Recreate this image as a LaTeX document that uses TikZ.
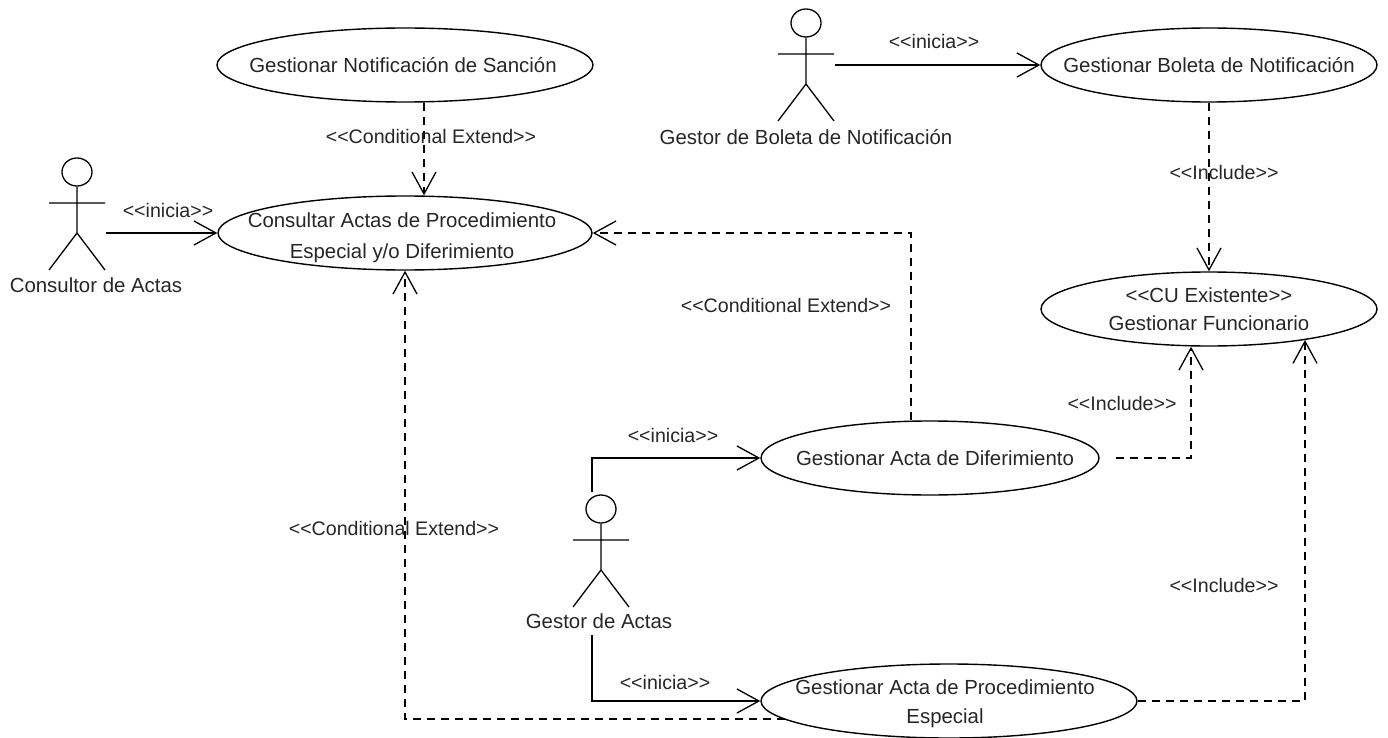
\documentclass[tikz,border=0pt]{standalone}
\usepackage{fontspec}
\setmainfont{Liberation Sans}
\usetikzlibrary{arrows.meta,shapes.geometric,calc}
\tikzset{
  x=1pt,y=-1pt,
  every node/.style={font=\fontsize{20.4}{23}\selectfont,text=black!85,align=center,inner sep=0pt},
  tag/.style={font=\fontsize{19.6}{23}\selectfont},
  uc/.style={draw,ellipse,minimum width=#1*2,minimum height=74pt,line width=1.4pt},
  flow/.style={line width=1.3pt,-{Straight Barb[length=22pt,width=24pt,line width=1.3pt]}},
  dep/.style={line width=1.3pt,dash pattern=on 8pt off 6pt,-{Straight Barb[length=22pt,width=24pt,line width=1.3pt]}},
  limb/.style={line width=1.3pt},
  pics/actor/.style={code={
    \node[draw,ellipse,minimum width=30pt,minimum height=28pt,line width=1.3pt] (-head) at (0,0) {};
    \coordinate (-neck) at (0,14);
    \coordinate (-hip) at (0,61);
    \coordinate (-la) at (-28,31);
    \coordinate (-ra) at (28,31);
    \coordinate (-ll) at (-28,98);
    \coordinate (-rl) at (28,98);
    \draw[limb] (-head) -- (-hip) (-la) -- (-ra) (-ll) -- (-hip) -- (-rl);
  }}
}
\begin{document}
\begin{tikzpicture}
\useasboundingbox (0,0) rectangle (1388,738);
% use cases
\node[uc=188] (e1) at (405,65) {};
\node[uc=168] (e2) at (1209,65) {};
\node[uc=187] (e3) at (405,233) {};
\node[uc=168] (e4) at (1209,309) {};
\node[uc=169] (e5) at (930,458) {};
\node[uc=188] (e6) at (949,701) {};
\node (e1t) at (403,65) {Gestionar Notificación de Sanción};
\node (e2t) at (1209,65) {Gestionar Boleta de Notificación};
\node (e3t) at (402,237.5) {Consultar Actas de Procedimiento\\[8pt]Especial y/o Diferimiento};
\node (e4t) at (1209,309) {<{}<CU Existente>{}>\\[5pt]Gestionar Funcionario};
\node (e5t) at (935,458) {Gestionar Acta de Diferimiento};
\node (e6t) at (945,703.5) {Gestionar Acta de Procedimiento\\[6pt]Especial};
% actors
\pic (a1) at (77,172) {actor};
\pic (a2) at (806,23) {actor};
\pic (a3) at (601,509) {actor};
\node (a1t) at (96,285) {Consultor de Actas};
\node (a2t) at (806,137) {Gestor de Boleta de Notificación};
\node (a3t) at (599,621) {Gestor de Actas};
% free ends
\coordinate (s1) at ($(a1-hip)+(29,0)$);
\coordinate (s2) at ($(a2-hip)+(29,-19)$);
\coordinate (s3) at ($(a3-head)+(-9,-17)$);
\coordinate (s4) at ($(a3t)+(-7,14)$);
\coordinate (s5) at ($(e5.east)+(16,0)$);
% connectors
\draw[flow] (s1) -- (e3.west);
\draw[flow] (s2) -- (e2.west);
\draw[flow] (s3) |- (e5.west);
\draw[flow] (s4) |- (e6.west);
\draw[dep] ($(e1.south)+(19,0)$) -- ($(e3.north)+(19,0)$);
\draw[dep] (e2.south) -- (e4.north);
\draw[dep] ($(e5.north)+(-19,0)$) |- (e3.east);
\draw[dep] ($(e6)+(-164,18)$) -| (e3.south);
\draw[dep] (s5) -| ($(e4.south)+(-18,0)$);
\draw[dep] (e6.east) -| ($(e4)+(96,31)$);
% labels
\node[tag] (l1) at (168,210) {<{}<inicia>{}>};
\node[tag] (l2) at (934,41) {<{}<inicia>{}>};
\node[tag] (l3) at (673,435) {<{}<inicia>{}>};
\node[tag] (l4) at (665,682) {<{}<inicia>{}>};
\node[tag] (l5) at (431,136) {<{}<Conditional Extend>{}>};
\node[tag] (l6) at (786,305) {<{}<Conditional Extend>{}>};
\node[tag] (l7) at (394,528) {<{}<Conditional Extend>{}>};
\node[tag] (l8) at (1224,172) {<{}<Include>{}>};
\node[tag] (l9) at (1122,403) {<{}<Include>{}>};
\node[tag] (l10) at (1224,585) {<{}<Include>{}>};
\end{tikzpicture}
\end{document}
